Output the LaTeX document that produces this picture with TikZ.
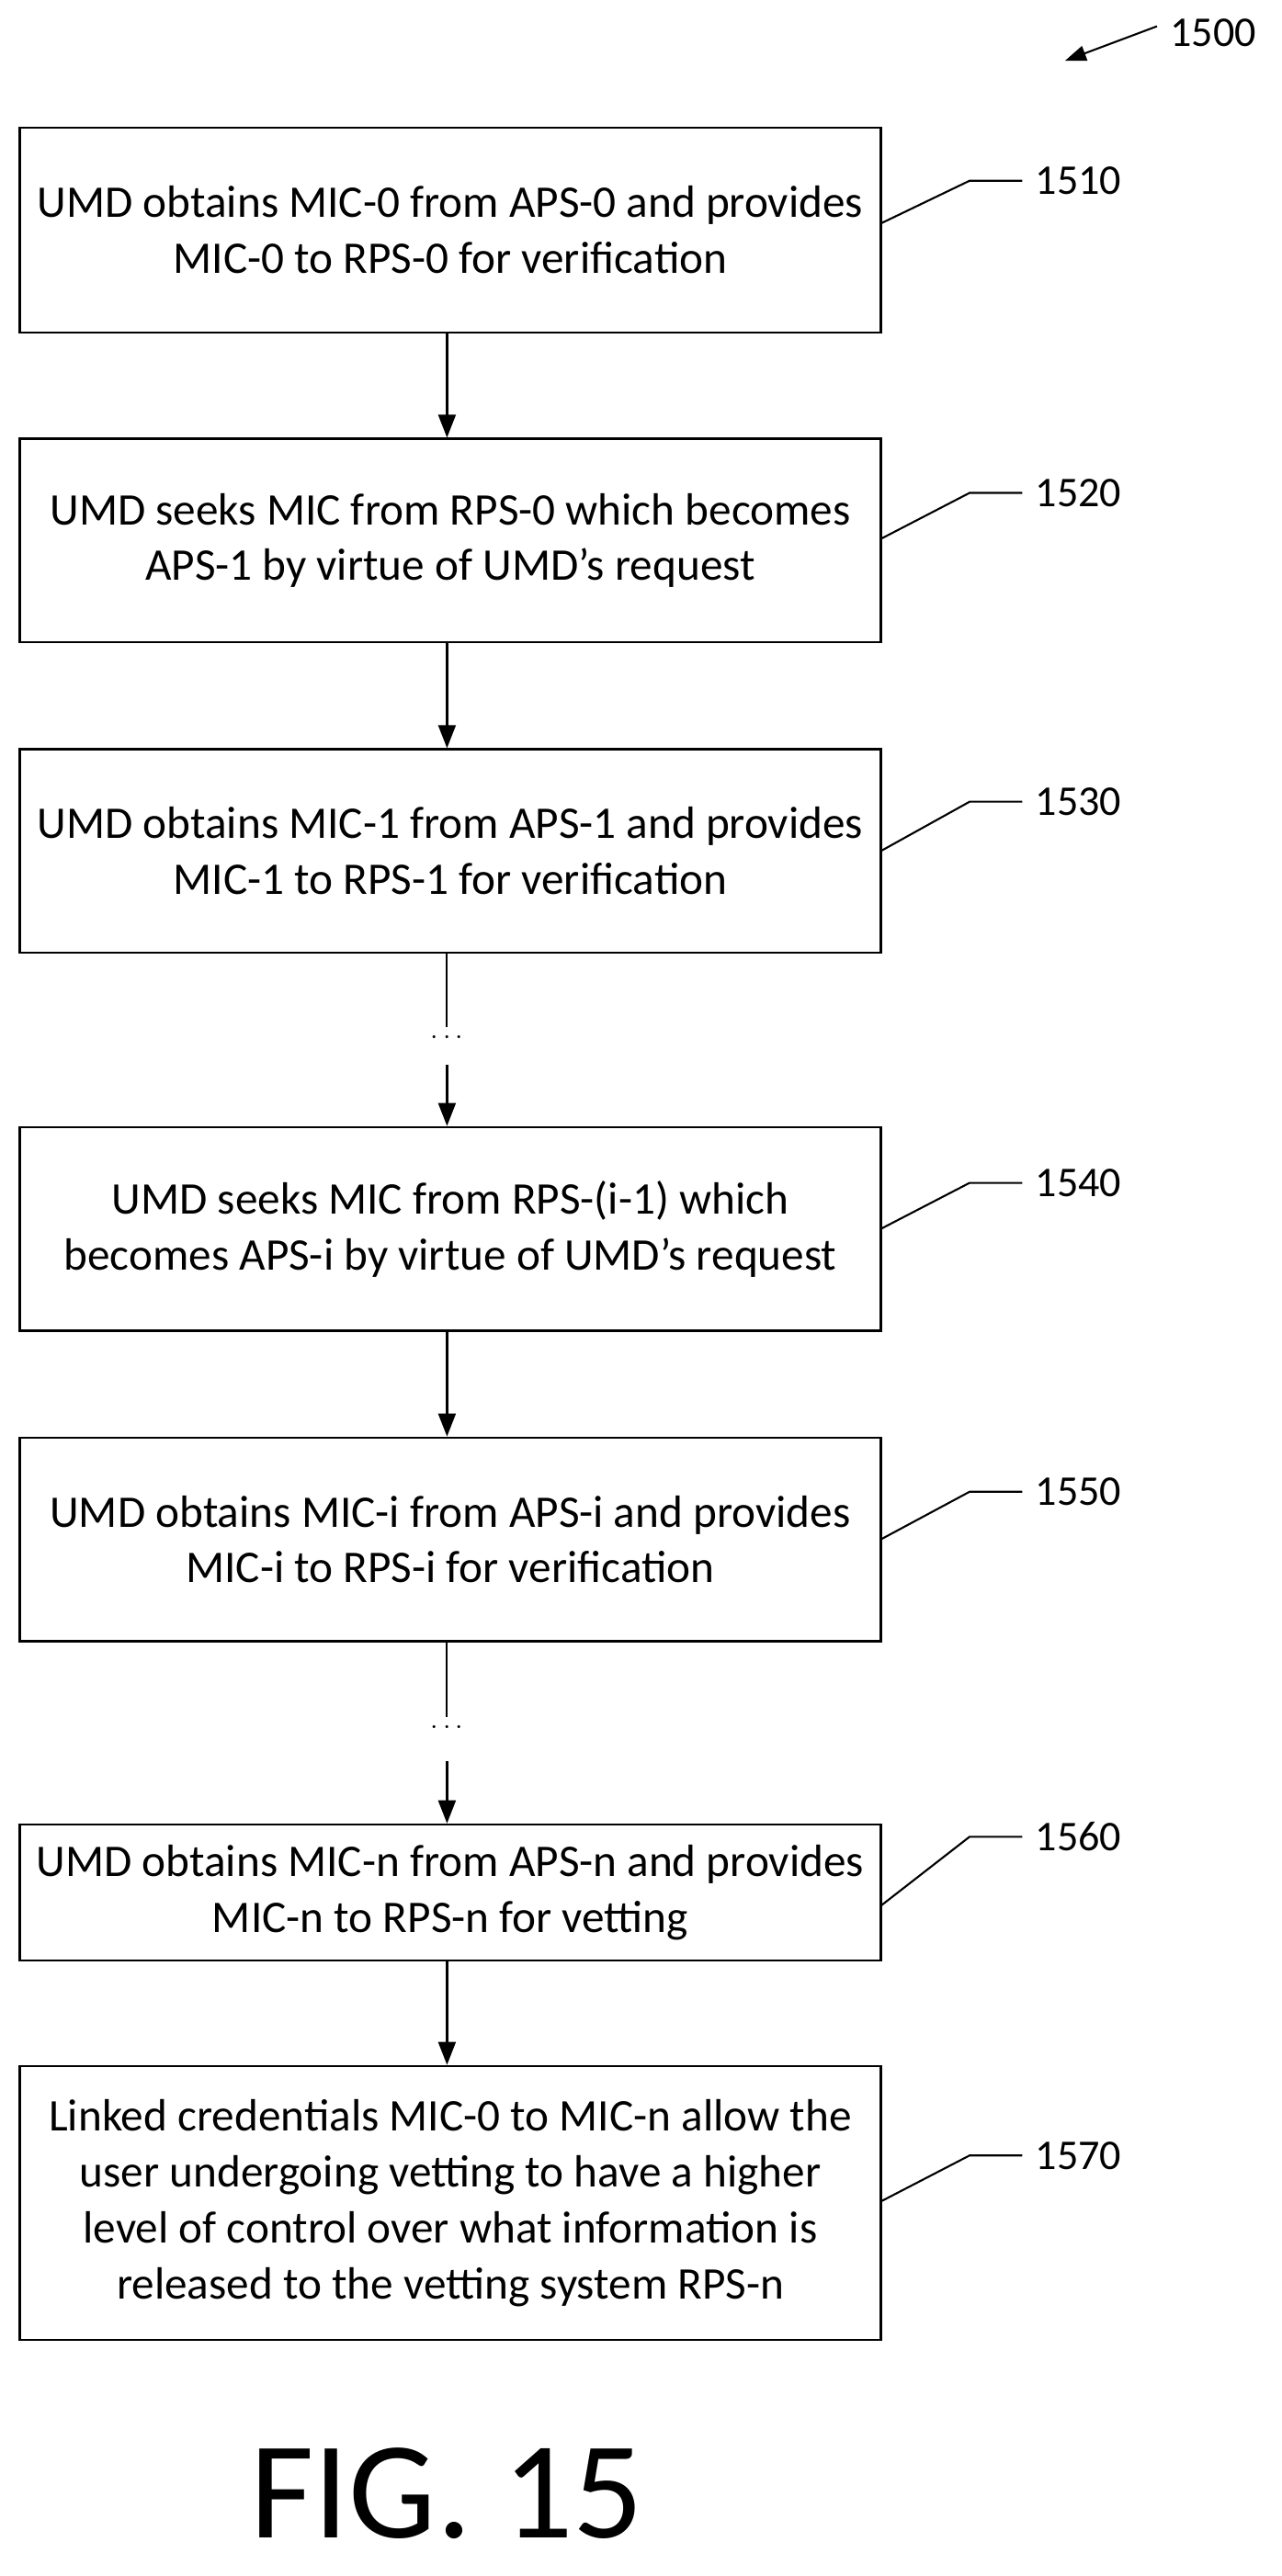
\documentclass[tikz,border=0pt]{standalone}
\usepackage{fontspec}
\setmainfont{Carlito}
\usetikzlibrary{arrows.meta}
\begin{document}
\begin{tikzpicture}[x=0.03cm,y=-0.03cm,
  box/.style={draw,line width=1pt,align=center,font=\fontsize{23.5}{29}\selectfont,inner sep=0},
  arr/.style={line width=1.3pt,-{Triangle[length=12pt,width=9pt]}},
  lead/.style={line width=1pt},
  lbl/.style={font=\fontsize{22}{26}\selectfont,anchor=west}]
\useasboundingbox (0,0) rectangle (780,1568);
\node[box,minimum width=524*0.03cm,minimum height=125*0.03cm] (b1) at (274,140) {UMD obtains MIC-0 from APS-0 and provides\\MIC-0 to RPS-0 for verification};
\node[box,minimum width=524*0.03cm,minimum height=124*0.03cm] (b2) at (274,329) {UMD seeks MIC from RPS-0 which becomes\\APS-1 by virtue of UMD’s request};
\node[box,minimum width=524*0.03cm,minimum height=124*0.03cm] (b3) at (274,518) {UMD obtains MIC-1 from APS-1 and provides\\MIC-1 to RPS-1 for verification};
\node[box,minimum width=524*0.03cm,minimum height=124*0.03cm] (b4) at (274,748) {UMD seeks MIC from RPS-(i-1) which\\becomes APS-i by virtue of UMD’s request};
\node[box,minimum width=524*0.03cm,minimum height=124*0.03cm] (b5) at (274,937) {UMD obtains MIC-i from APS-i and provides\\MIC-i to RPS-i for verification};
\node[box,minimum width=524*0.03cm,minimum height=83*0.03cm] (b6) at (274,1152) {UMD obtains MIC-n from APS-n and provides\\MIC-n to RPS-n for vetting};
\node[box,minimum width=524*0.03cm,minimum height=167*0.03cm] (b7) at (274,1341) {Linked credentials MIC-0 to MIC-n allow the\\user undergoing vetting to have a higher\\level of control over what information is\\released to the vetting system RPS-n};
\draw[arr] (b1.south -| 272,0) -- (b2.north -| 272,0);
\draw[arr] (b2.south -| 272,0) -- (b3.north -| 272,0);
\draw[arr] (b4.south -| 272,0) -- (b5.north -| 272,0);
\draw[arr] (b6.south -| 272,0) -- (b7.north -| 272,0);
\coordinate (d1) at (272,625);
\coordinate (e1) at (272,648);
\draw[line width=1pt] (b3.south -| 272,0) -- (d1);
\node[font=\Large] at (272,632) {$\cdots$};
\draw[arr] (e1) -- (b4.north -| 272,0);
\coordinate (d2) at (272,1045);
\coordinate (e2) at (272,1072);
\draw[line width=1pt] (b5.south -| 272,0) -- (d2);
\node[font=\Large] at (272,1052) {$\cdots$};
\draw[arr] (e2) -- (b6.north -| 272,0);
\foreach \n/\ya/\yb/\t in {b1/136/110/1510,b2/328/300/1520,b3/518/488/1530,b4/748/720/1540,b5/937/908/1550,b6/1160/1118/1560,b7/1340/1312/1570}{
  \coordinate (s\t) at (536,\ya);
  \coordinate (m\t) at (590,\yb);
  \coordinate (t\t) at (622,\yb);
  \draw[lead] (s\t) -- (m\t) -- (t\t);
  \node[lbl] (l\t) at (626,\yb) {\t};
}
\node[lbl] (l1500) at (708,20) {1500};
\coordinate (a1500) at (704,16);
\coordinate (h1500) at (648,37);
\draw[line width=1pt,-{Triangle[length=11pt,width=8pt]}] (a1500) -- (h1500);
\node[font=\fontsize{72}{76}\selectfont] (fig) at (272,1518) {FIG. 15};
\end{tikzpicture}
\end{document}
